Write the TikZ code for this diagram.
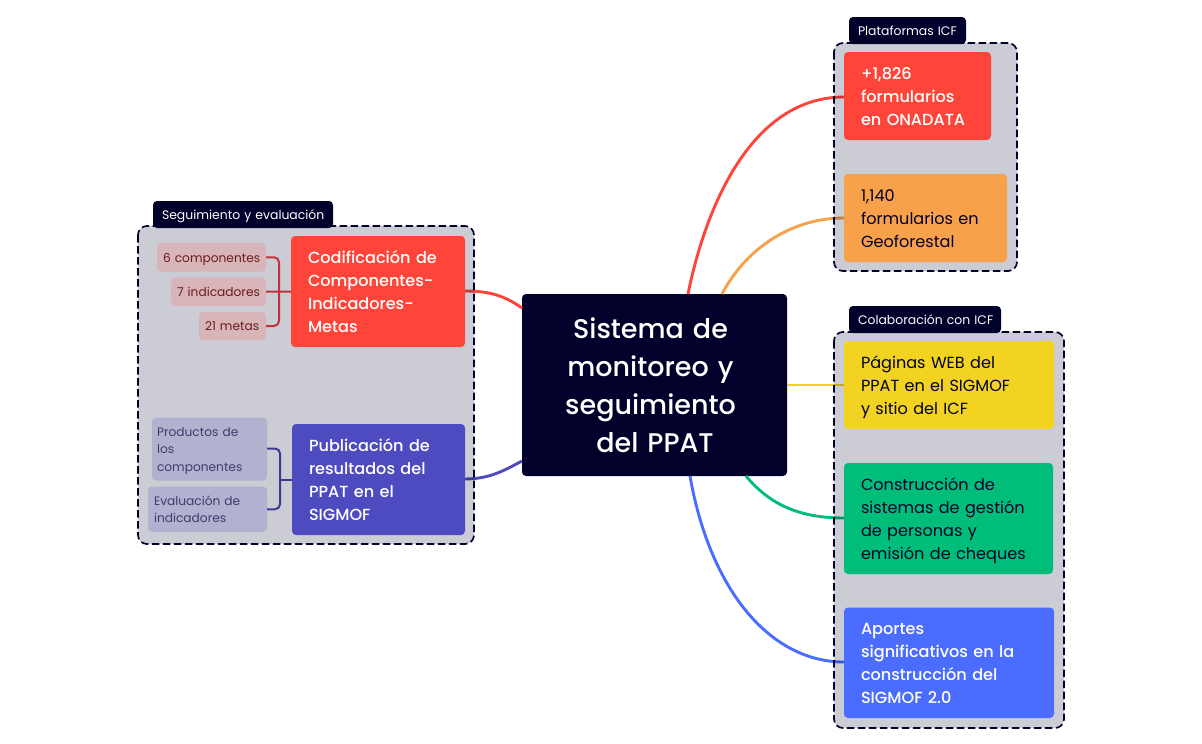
\documentclass[tikz,border=0pt]{standalone}
\usepackage{fontspec}
\setmainfont{Poppins}
\newfontfamily\medf{Poppins Medium}
\usetikzlibrary{calc}
\definecolor{navy}{HTML}{01012B}
\definecolor{cred}{HTML}{FF4539}
\definecolor{corange}{HTML}{F7A14B}
\definecolor{cyellow}{HTML}{F3D321}
\definecolor{cgreen}{HTML}{00BD7A}
\definecolor{cblue}{HTML}{4A6CFF}
\definecolor{cpurple}{HTML}{4E4BC0}
\definecolor{kidredfill}{HTML}{D8B5B8}
\definecolor{kidredtext}{HTML}{6B1C20}
\definecolor{kidredline}{HTML}{C23338}
\definecolor{kidpurfill}{HTML}{B2B2D0}
\definecolor{kidpurtext}{HTML}{3E3C6B}
\definecolor{kidpurline}{HTML}{3A3A96}
\tikzset{
  bx/.style={rectangle,rounded corners=4pt,anchor=north west,inner ysep=0pt,outer sep=0pt,align=left},
  whiteb/.style={bx,font=\medf\fontsize{16.1}{23}\selectfont,text=white},
  darkb/.style={bx,font=\fontsize{16.1}{23}\selectfont,text=navy},
  kidred/.style={bx,fill=kidredfill,text=kidredtext,font=\fontsize{12.2}{17.2}\selectfont},
  kidpur/.style={bx,fill=kidpurfill,text=kidpurtext,font=\fontsize{12.2}{17.2}\selectfont},
  tabb/.style={bx,fill=navy,text=white,font=\fontsize{12.4}{14}\selectfont},
  grp/.style={rounded corners=9pt,fill=navy,fill opacity=0.2,draw opacity=0},
  grpline/.style={rounded corners=9pt,draw=navy,line width=1.7pt,dash pattern=on 7.5pt off 3.5pt},
  conn/.style={line width=2.9pt},
  kidconn/.style={line width=2pt,rounded corners=5pt}
}
\newcommand{\vstrutA}{\rule{0pt}{1.05em}}
\newcommand{\vstrutB}{\rule[-.25em]{0pt}{0pt}}
\newcommand{\titleline}[1]{\mbox{#1\kern8pt}}
% name, x1, y1, x2, y2, style, padding, text
\newcommand{\bx}[8]{%
  \pgfmathsetmacro{\bw}{#4-#2}\pgfmathsetmacro{\bh}{#5-#3}\pgfmathsetmacro{\tw}{#4-#2-2*#7}%
  \node[#6,minimum width=\bw pt,minimum height=\bh pt,inner xsep=#7 pt,text width=\tw pt] (#1) at (#2,#3) {\vstrutA #8\vstrutB};}
\begin{document}
\begin{tikzpicture}[x=1pt,y=-1pt]
\useasboundingbox (0,0) rectangle (1202,744);
\bx{central}{522}{294}{787}{476}{bx,fill=navy,text=white,align=center,font=\medf\fontsize{27}{38}\selectfont}{0}{\titleline{Sistema de}\\\titleline{monitoreo y}\\\titleline{seguimiento}\\\titleline{~del PPAT}}
\coordinate (cTopA) at ($(central.north west)+(166,0)$);
\coordinate (cTopB) at ($(central.north west)+(200,0)$);
\coordinate (cBotA) at ($(central.south west)+(168,0)$);
\coordinate (cBotB) at ($(central.south west)+(224,0)$);
\coordinate (cLeftA) at ($(central.north west)+(0,14)$);
\coordinate (cLeftB) at ($(central.south west)+(0,-15)$);
\coordinate (cRight) at ($(central.north east)+(0,91)$);
\coordinate (rOnad) at (844,97);
\coordinate (rGeo) at (844,218);
\coordinate (rWeb) at (844,385);
\coordinate (rCons) at (844,518);
\coordinate (rApor) at (844,662);
\coordinate (lCod) at (465,291);
\coordinate (lPub) at (465,479);
% connectors
\draw[conn,cred] (cTopA) .. controls (705,210) and (750,97) .. (rOnad);
\draw[conn,corange] (cTopB) .. controls (745,250) and (790,218) .. (rGeo);
\draw[conn,cyellow] (cRight) -- (rWeb);
\draw[conn,cgreen] (cBotB) .. controls (770,505) and (800,518) .. (rCons);
\draw[conn,cblue] (cBotA) .. controls (710,590) and (770,662) .. (rApor);
\draw[conn,cred] (lCod) .. controls (490,291) and (505,296) .. (cLeftA);
\draw[conn,cpurple] (lPub) .. controls (490,479) and (505,470) .. (cLeftB);
% groups
\fill[grp] (138,226) rectangle (474,544);
\fill[grp] (834,43) rectangle (1017,271);
\fill[grp] (834,332) rectangle (1064,728);
\draw[grpline] (138,226) rectangle (474,544);
\draw[grpline] (834,43) rectangle (1017,271);
\draw[grpline] (834,332) rectangle (1064,728);
% tabs
\bx{tabA}{153}{201}{333}{228}{tabb}{9}{\mbox{Seguimiento y evaluación}}
\bx{tabB}{849}{17}{966}{44}{tabb}{9}{\mbox{Plataformas ICF}}
\bx{tabC}{849}{306}{1001}{333}{tabb}{9}{\mbox{Colaboración con ICF}}
% main boxes
\bx{cod}{291}{236}{465}{347}{whiteb,fill=cred}{17}{Codificación de\\Componentes-\\Indicadores-\\Metas}
\bx{pub}{292}{424}{465}{535}{whiteb,fill=cpurple}{17}{Publicación de\\resultados del\\PPAT en el\\SIGMOF}
\bx{onad}{844}{52}{991}{140}{whiteb,fill=cred}{17}{+1,826\\formularios\\en ONADATA}
\bx{geo}{844}{174}{1007}{262}{darkb,fill=corange}{17}{1,140\\formularios en\\Geoforestal}
\bx{web}{844}{341}{1054}{429}{darkb,fill=cyellow}{17}{Páginas WEB del\\PPAT en el SIGMOF\\y sitio del ICF}
\bx{cons}{844}{463}{1053}{574}{darkb,fill=cgreen}{17}{Construcción de\\sistemas de gestión\\de personas y\\emisión de cheques}
\bx{apor}{844}{607.5}{1054}{718}{whiteb,fill=cblue}{17}{Aportes\\significativos en la\\construcción del\\SIGMOF 2.0}
% kids
\bx{k1}{157}{243}{266}{271.5}{kidred}{6}{\mbox{6 componentes}}
\bx{k2}{171}{277.5}{266}{306}{kidred}{6}{\mbox{7 indicadores}}
\bx{k3}{199}{312}{266}{340}{kidred}{6}{\mbox{21 metas}}
\bx{k4}{152}{417.5}{267}{480.5}{kidpur}{5}{Productos de\\los\\componentes}
\bx{k5}{148}{486.5}{267}{532}{kidpur}{6}{Evaluación de\\indicadores}
% kid connectors
\draw[kidconn,kidredline] (k1.east) -| ($(cod.west)+(-12,0)$) |- (k3.east);
\draw[kidconn,kidredline] (k2.east) -- (cod.west);
\draw[kidconn,kidpurline] ($(k4.south east)+(0,-32)$) -| ($(pub.west)+(-12,0)$) |- (k5.east);
\draw[kidconn,kidpurline] ($(pub.west)+(-12,0)$) -- (pub.west);
\end{tikzpicture}
\end{document}
